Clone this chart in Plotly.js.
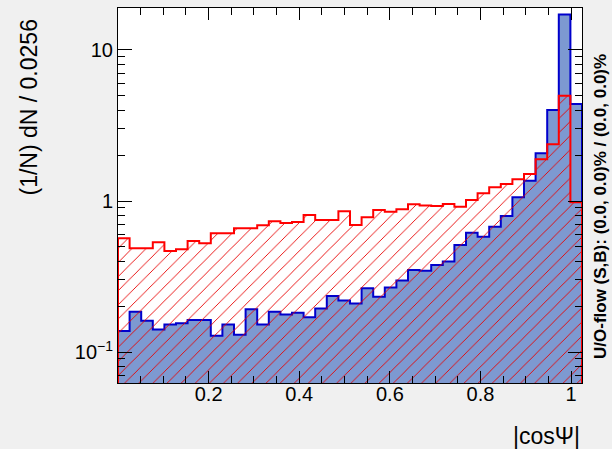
<!DOCTYPE html>
<html><head><meta charset="utf-8">
<script src="https://cdn.plot.ly/plotly-3.0.1.min.js"></script>
<style>html,body{margin:0;padding:0;background:#f0f0f0;} #chart{width:612px;height:449px;}</style>
</head><body><div id="chart"></div>
<script>
const binWidth = 0.0256;
const xMin = 0;
const signal = [0.138,0.185,0.161,0.141,0.152,0.155,0.163,0.163,0.128,0.152,
                0.130,0.192,0.152,0.185,0.177,0.182,0.170,0.194,0.235,0.219,
                0.210,0.264,0.232,0.267,0.298,0.349,0.345,0.377,0.398,0.511,
                0.617,0.580,0.676,0.796,1.058,1.362,2.07,4.0,17.2,4.39];
const background = [0.566,0.486,0.486,0.533,0.467,0.479,0.543,0.525,0.611,0.611,
                    0.659,0.659,0.690,0.735,0.715,0.725,0.808,0.748,0.748,0.855,
                    0.694,0.780,0.872,0.850,0.881,0.951,0.935,0.927,0.955,0.917,
                    1.015,1.125,1.232,1.296,1.392,1.51,1.89,2.38,4.98,0.98];
const xTickVals = [0.2,0.4,0.6,0.8,1.0];
const xTickText = ['0.2','0.4','0.6','0.8','1'];
const yTickVals = [0.1,1,10];
const yTickText = ['10<sup>\u22121</sup>','1','10'];
const xTitle = '|cos\u03A8|';
const yTitle = '(1/N) dN / 0.0256';
const flowText = 'U/O-flow (S,B): (0.0, 0.0)% / (0.0, 0.0)%';

const nBins = signal.length;
const xMax = xMin + nBins*binWidth;
const base = 1e-4;

function stepPath(vals){
  const xs=[xMin], ys=[base];
  for(let i=0;i<vals.length;i++){ xs.push(xMin+i*binWidth); ys.push(vals[i]); }
  xs.push(xMax); ys.push(vals[vals.length-1]);
  xs.push(xMax); ys.push(base);
  return {xs, ys};
}
const s = stepPath(signal), b = stepPath(background);

const minorX = [];
for(let k=1;k*0.05<xMax;k++){ const v=+(k*0.05).toFixed(2); if(Math.abs(v/0.2-Math.round(v/0.2))>1e-6) minorX.push(v); }
const minorY = [];
for(let d=-2; d<=1; d++){ for(let m=2;m<=9;m++){ minorY.push(m*Math.pow(10,d)); } }

const traces = [
  {x:s.xs, y:s.ys, type:'scatter', mode:'lines', line:{shape:'hv', color:'#0000cc', width:2},
   fill:'toself', fillcolor:'#7d99d1', hoverinfo:'skip'},
  {x:b.xs, y:b.ys, type:'scatter', mode:'lines', line:{shape:'hv', color:'#ff0000', width:2},
   fill:'toself', fillcolor:'rgba(0,0,0,0)',
   fillpattern:{shape:'/', fgcolor:'#e80000', fgopacity:1, bgcolor:'rgba(0,0,0,0)', size:10, solidity:0.09},
   hoverinfo:'skip'}
];

const L=118, R=582, T=8, B=383;
const W=R-L, H=B-T;
function px(xp){return (xp-L)/W;}
function py(yp){return (B-yp)/H;}

const font = '"Liberation Sans", Arial, Helvetica, sans-serif';
const layout = {
  width:612, height:449,
  paper_bgcolor:'#f0f0f0', plot_bgcolor:'#ffffff',
  margin:{l:L, r:612-R, t:T, b:449-B, pad:0},
  showlegend:false,
  font:{family:font, color:'#000', size:20},
  xaxis:{range:[xMin,xMax], tickmode:'array', tickvals:xTickVals, ticktext:xTickText,
    ticks:'inside', ticklen:12, tickwidth:1, tickcolor:'#000', ticklabelstandoff:-7,
    showline:true, linecolor:'#000', linewidth:1, mirror:'allticks',
    showgrid:false, zeroline:false, tickfont:{size:20, family:font, color:'#000'},
    minor:{tickmode:'array', tickvals:minorX, ticks:'inside', ticklen:7, tickcolor:'#000', showgrid:false}},
  yaxis:{type:'log', range:[-1.205,1.278], tickmode:'array', tickvals:yTickVals, ticktext:yTickText,
    ticks:'inside', ticklen:14, tickwidth:1, tickcolor:'#000',
    showline:true, linecolor:'#000', linewidth:1, mirror:'allticks',
    showgrid:false, zeroline:false, tickfont:{size:20, family:font, color:'#000'},
    minor:{tickmode:'array', tickvals:minorY, ticks:'inside', ticklen:7, tickcolor:'#000', showgrid:false}},
  annotations:[
    {text:yTitle, xref:'paper', yref:'paper', x:px(29), y:py(107.5), xanchor:'center', yanchor:'middle',
     textangle:-90, showarrow:false, font:{size:23, family:font, color:'#000'}},
    {text:xTitle, xref:'paper', yref:'paper', x:px(582), y:py(436), xanchor:'right', yanchor:'middle',
     showarrow:false, font:{size:23, family:font, color:'#000'}},
    {text:'<b>'+flowText+'</b>', xref:'paper', yref:'paper', x:px(600.5), y:py(206.5), xanchor:'center', yanchor:'middle',
     textangle:-90, showarrow:false, font:{size:17, family:font, color:'#000'}}
  ]
};
Plotly.newPlot('chart', traces, layout, {staticPlot:true, displayModeBar:false});
</script></body></html>
